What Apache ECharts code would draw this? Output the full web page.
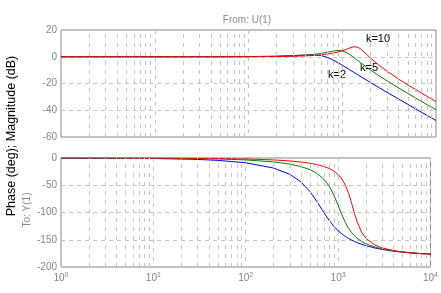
<!DOCTYPE html>
<html><head><meta charset="utf-8">
<script src="https://cdn.jsdelivr.net/npm/echarts@6/dist/echarts.min.js"></script>
<style>html,body{margin:0;padding:0;background:#fff}#c{width:441px;height:293px}</style>
</head><body><div id="c"></div>
<script>
// frequency points (rad/s)
const freq = [1, 10, 30, 50, 100, 200, 300, 400, 500, 600, 700, 800, 900, 1000, 1100, 1200, 1300, 1400, 1500, 1600, 1800, 2000, 2500, 3000, 4000, 5000, 6000, 8000, 10000];
// magnitude (dB)
const magK2  = [0, 0, 0.01, 0.03, 0.11, 0.43, 0.89, 1.33, 1.42, 0.81, -0.58, -2.43, -4.40, -6.32, -8.10, -9.75, -11.26, -12.66, -13.96, -15.16, -17.34, -19.27, -23.30, -26.56, -31.65, -35.56, -38.75, -43.78, -47.66];
const magK5  = [0, 0, 0.01, 0.02, 0.07, 0.28, 0.63, 1.12, 1.77, 2.56, 3.44, 4.25, 4.69, 4.40, 3.30, 1.70, -0.07, -1.81, -3.43, -4.93, -7.59, -9.87, -14.44, -17.98, -23.34, -27.39, -30.64, -35.73, -39.65];
const magK10 = [0, 0, 0, 0.01, 0.04, 0.15, 0.35, 0.63, 1.00, 1.46, 2.03, 2.72, 3.54, 4.48, 5.52, 6.54, 7.31, 7.45, 6.75, 5.39, 2.10, -0.93, -6.69, -10.82, -16.72, -20.99, -24.37, -29.57, -33.54];
// phase (deg)
const phK2  = [-0.09, -0.86, -2.59, -4.33, -8.76, -18.42, -29.98, -44.47, -62.30, -81.90, -100.04, -114.56, -125.38, -133.39, -139.40, -144.03, -147.70, -150.66, -153.11, -155.17, -158.42, -160.90, -165.11, -167.76, -170.94, -172.80, -174.02, -175.53, -176.43];
const phK5  = [-0.03, -0.34, -1.03, -1.73, -3.48, -7.13, -11.18, -15.89, -21.64, -28.99, -38.71, -51.69, -68.29, -87.00, -104.57, -118.67, -129.16, -136.85, -142.58, -146.96, -153.14, -157.29, -163.43, -166.84, -170.58, -172.62, -173.92, -175.49, -176.41];
const phK10 = [-0.02, -0.17, -0.52, -0.86, -1.73, -3.51, -5.39, -7.43, -9.71, -12.33, -15.43, -19.22, -24.00, -30.25, -38.62, -50.01, -65.09, -83.11, -101.23, -116.48, -136.43, -147.31, -159.65, -164.96, -169.89, -172.29, -173.73, -175.41, -176.37];
const seriesNames = ['k=2', 'k=5', 'k=10'];
const magTicks = [20, 0, -20, -40, -60];
const phaseTicks = [0, -50, -100, -150, -200];
const decades = [1, 10, 100, 1000, 10000];

const font = '"Liberation Sans", Arial, Helvetica, sans-serif';
const gridColor = '#c4c4c4';
const axisColor = '#868686';
const colors = ['#0000ff', '#008000', '#ff0000'];

// minor log grid positions (2..9 per decade)
const minorGrid = [];
for (let d = 0; d < decades.length - 1; d++) {
  for (let m = 2; m <= 9; m++) minorGrid.push(decades[d] * m);
}

function mkX(idx, showLabels) {
  return {
    type: 'log', logBase: 10, min: decades[0], max: decades[decades.length - 1], gridIndex: idx,
    axisLine: {show: false}, axisTick: {show: false},
    splitLine: {show: true, lineStyle: {color: gridColor, type: [4, 5], width: 1}},
    axisLabel: {
      show: showLabels, color: axisColor, fontSize: 10, fontFamily: font, margin: 5,
      formatter: v => '10{s|' + Math.round(Math.log10(v)) + '}',
      rich: {s: {fontSize: 7, color: axisColor, fontFamily: font, verticalAlign: 'top', padding: [0, 0, 5, 0]}}
    }
  };
}
function mkY(idx, ticks) {
  return {
    type: 'value', gridIndex: idx, min: ticks[ticks.length - 1], max: ticks[0],
    interval: ticks[0] - ticks[1],
    axisLine: {show: false}, axisTick: {show: false},
    splitLine: {show: true, lineStyle: {color: gridColor, type: [4, 4], width: 1}},
    axisLabel: {color: axisColor, fontSize: 10, fontFamily: font, margin: 4}
  };
}
function gridSeries(idx) {
  return {
    type: 'line', xAxisIndex: idx, yAxisIndex: idx, data: [], silent: true, z: 1,
    markLine: {
      silent: true, symbol: ['none', 'none'], label: {show: false}, animation: false,
      lineStyle: {color: gridColor, type: [4, 5], width: 1},
      data: minorGrid.map(v => ({xAxis: v}))
    }
  };
}
function dataSeries(idx, name, vals, color) {
  return {
    name: name, type: 'line', xAxisIndex: idx, yAxisIndex: idx, z: 3,
    showSymbol: false, symbol: 'none', smooth: false,
    lineStyle: {color: color, width: 1}, itemStyle: {color: color},
    data: freq.map((f, i) => [f, vals[i]])
  };
}

const chart = echarts.init(document.getElementById('c'), null, {renderer: 'canvas'});
chart.setOption({
  animation: false,
  backgroundColor: '#ffffff',
  grid: [
    {left: 61, top: 30, width: 375, height: 107, show: true, borderColor: axisColor, borderWidth: 1, backgroundColor: 'transparent'},
    {left: 61, top: 158, width: 375, height: 109, show: true, borderColor: axisColor, borderWidth: 1, backgroundColor: 'transparent'}
  ],
  xAxis: [mkX(0, false), mkX(1, true)],
  yAxis: [mkY(0, magTicks), mkY(1, phaseTicks)],
  series: [
    gridSeries(0), gridSeries(1),
    dataSeries(0, seriesNames[0], magK2, colors[0]),
    dataSeries(0, seriesNames[1], magK5, colors[1]),
    dataSeries(0, seriesNames[2], magK10, colors[2]),
    dataSeries(1, seriesNames[0], phK2, colors[0]),
    dataSeries(1, seriesNames[1], phK5, colors[1]),
    dataSeries(1, seriesNames[2], phK10, colors[2])
  ],
  graphic: [
    {type: 'text', x: 232, y: -6, style: {text: 'Bode Diagram', font: '11px ' + font, fill: '#000', textAlign: 'center', textVerticalAlign: 'middle'}},
    {type: 'text', x: 247, y: 20, style: {text: 'From: U(1)', font: '10px ' + font, fill: '#8c8c8c', textAlign: 'center', textVerticalAlign: 'middle'}},
    {type: 'text', x: 27, y: 210, rotation: Math.PI / 2, style: {text: 'To: Y(1)', font: '10px ' + font, fill: '#8c8c8c', textAlign: 'center', textVerticalAlign: 'middle'}},
    {type: 'text', x: 12, y: 136, rotation: Math.PI / 2, style: {text: 'Phase (deg); Magnitude (dB)', font: '12.5px ' + font, fill: '#000', textAlign: 'center', textVerticalAlign: 'middle'}},
    {type: 'text', x: 378, y: 39, style: {text: seriesNames[2], font: '11px ' + font, fill: '#000', textAlign: 'center', textVerticalAlign: 'middle'}},
    {type: 'text', x: 369, y: 68, style: {text: seriesNames[1], font: '11px ' + font, fill: '#000', textAlign: 'center', textVerticalAlign: 'middle'}},
    {type: 'text', x: 337, y: 75, style: {text: seriesNames[0], font: '11px ' + font, fill: '#000', textAlign: 'center', textVerticalAlign: 'middle'}}
  ]
});
</script>
</body></html>
